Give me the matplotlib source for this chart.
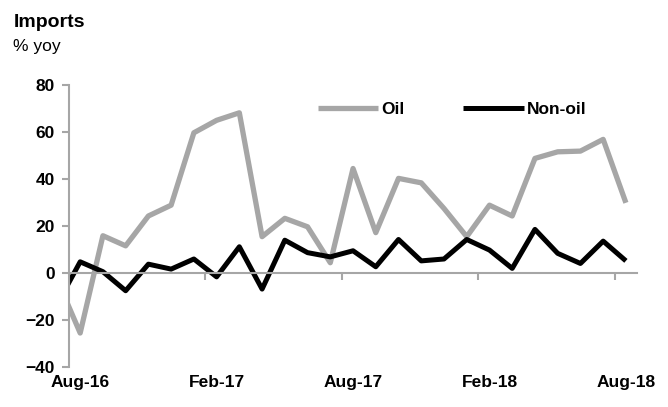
import matplotlib.pyplot as plt

plt.rcParams['font.family'] = ['Liberation Sans Narrow', 'Liberation Sans', 'DejaVu Sans']

# Jul-16 .. Aug-18, Jul-16 sits just outside the plot area
months = ['Jul-16', 'Aug-16', 'Sep-16', 'Oct-16', 'Nov-16', 'Dec-16', 'Jan-17', 'Feb-17',
          'Mar-17', 'Apr-17', 'May-17', 'Jun-17', 'Jul-17', 'Aug-17', 'Sep-17', 'Oct-17',
          'Nov-17', 'Dec-17', 'Jan-18', 'Feb-18', 'Mar-18', 'Apr-18', 'May-18', 'Jun-18',
          'Jul-18', 'Aug-18']
oil = [-3, -25.5, 15.9, 11.6, 24.3, 28.9, 59.7, 65.0, 68.2, 15.5, 23.3, 19.7, 4.4, 44.5,
       17.2, 40.3, 38.4, 27.5, 15.5, 28.9, 24.3, 48.8, 51.6, 51.9, 56.9, 29.9]
non_oil = [-13, 4.8, 0.6, -7.5, 3.8, 1.7, 6.0, -1.6, 11.2, -6.8, 14.0, 8.7, 6.9, 9.5,
           2.7, 14.3, 5.2, 6.0, 14.3, 9.8, 2.0, 18.6, 8.4, 4.1, 13.6, 5.2]
shown_labels = ['Aug-16', 'Feb-17', 'Aug-17', 'Feb-18', 'Aug-18']

x = list(range(-1, len(months) - 1))
axis_grey = '#A6A6A6'

fig = plt.figure(figsize=(6.68, 4.07), dpi=100)
ax = fig.add_axes([0.103, 0.098, 0.851, 0.693])

ax.plot(x, oil, color='#A6A6A6', linewidth=3.8, label='Oil', solid_capstyle='butt')
ax.plot(x, non_oil, color='black', linewidth=3.6, label='Non-oil', solid_capstyle='butt')

ax.set_xlim(-0.5, len(months) - 1.5)
ax.set_ylim(-40, 80)
ax.set_yticks([-40, -20, 0, 20, 40, 60, 80])

for s in ['top', 'right']:
    ax.spines[s].set_visible(False)
ax.spines['left'].set_color(axis_grey)
ax.spines['left'].set_linewidth(1.5)
ax.spines['bottom'].set_position(('data', 0))
ax.spines['bottom'].set_color(axis_grey)
ax.spines['bottom'].set_linewidth(1.5)

ax.tick_params(axis='y', direction='out', length=5, width=1.5, color=axis_grey,
               labelsize=12.5, pad=5)
for t in ax.get_yticklabels():
    t.set_fontweight('bold')

# tick marks between categories on the zero line, labels at the bottom
ax.set_xticks([])
ax.set_xticks([5.5, 11.5, 17.5, 23.5], minor=True)
ax.tick_params(axis='x', which='minor', direction='out', length=5, width=1.5, color=axis_grey)
label_pos = [months.index(m) - 1 for m in shown_labels]
sec = ax.secondary_xaxis('bottom')
sec.set_xticks(label_pos)
sec.set_xticklabels(shown_labels, fontweight='bold', fontsize=12.5)
sec.tick_params(length=0, pad=6)
sec.spines['bottom'].set_visible(False)

ax.legend(loc='upper left', bbox_to_anchor=(0.41, 0.995), ncol=2, frameon=False,
          handlelength=3.5, handletextpad=0.15, columnspacing=3.4,
          prop={'weight': 'bold', 'size': 12.5})

fig.text(0.02, 0.965, 'Imports', fontsize=14, fontweight='bold', va='top')
fig.text(0.02, 0.905, '% yoy', fontsize=12.5, va='top')

fig.savefig('out.png', dpi=100)
